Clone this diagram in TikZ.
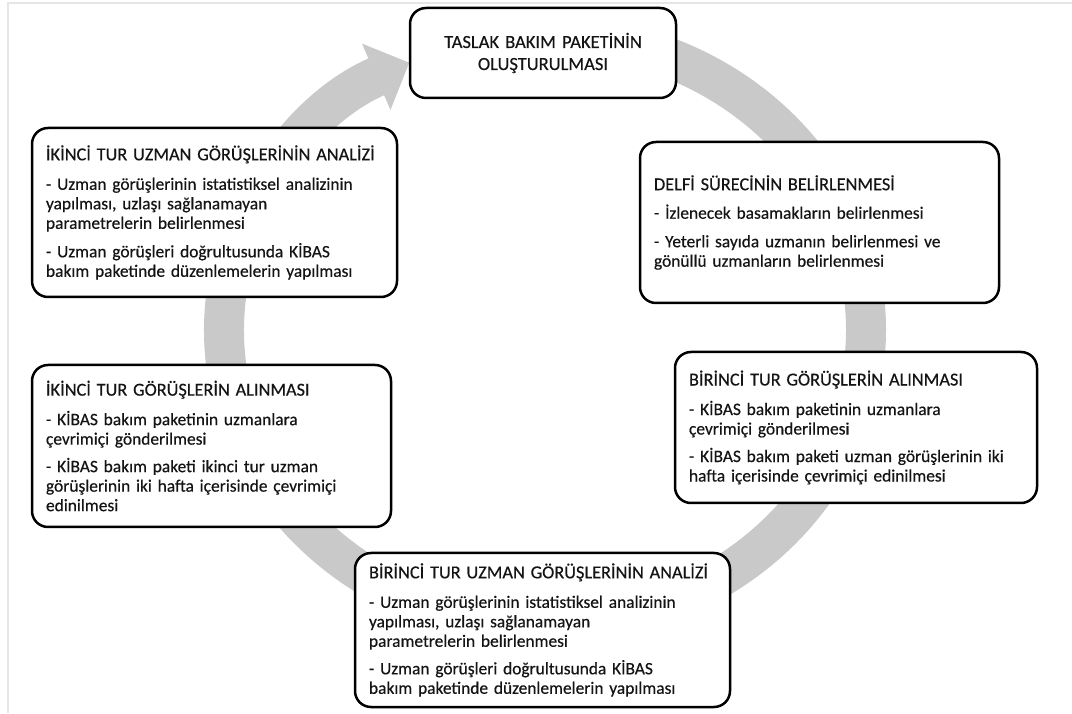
\documentclass[tikz,border=0pt]{standalone}
\usepackage{fontspec}
\setmainfont{Carlito}[FakeBold=0.4]
\usetikzlibrary{arrows.meta}
\definecolor{ringgray}{RGB}{201,201,201}
\definecolor{framegray}{RGB}{230,230,230}
\definecolor{txt}{RGB}{20,20,20}
\newcommand{\hd}[1]{{\fontsize{18.3}{19.5}\selectfont #1}}
\begin{document}
\begin{tikzpicture}[x=1pt,y=1pt,
  box/.style={draw=black, line width=2.5pt, rounded corners=16pt, fill=white,
    inner xsep=14pt, inner ysep=0pt, align=left, text=txt,
    font=\fontsize{17.4}{19.5}\selectfont},
  ring/.style={draw=ringgray, line width=40pt, -{Triangle[length=36pt,width=70pt]}},
  frame/.style={draw=framegray, line width=2pt}
]
\useasboundingbox (0,0) rectangle (1072,713);
\draw[frame] (1072,710) -- (8,710) -- (8,0);
\coordinate (c) at (545,383);
\draw[ring] ([shift={(85:321 and 295)}]c) arc[start angle=85, end angle=-245, x radius=321, y radius=295];

\node[box, align=center, minimum width=266pt, minimum height=90pt, text width=238pt, font=\fontsize{18.5}{22}\selectfont] (top) at (543,660)
  {TASLAK BAKIM PAKETİNİN\\ OLUŞTURULMASI};

\node[box, minimum width=359pt, minimum height=161pt, text width=331pt] (delfi) at (819.5,490.5)
  {\hd{DELFİ SÜRECİNİN BELİRLENMESİ}\\[9pt]
   - İzlenecek basamakların belirlenmesi\\[9pt]
   - Yeterli sayıda uzmanın belirlenmesi ve\\
   gönüllü uzmanların belirlenmesi};

\node[box, minimum width=362pt, minimum height=151pt, text width=334pt] (bal) at (856,285.5)
  {\hd{BİRİNCİ TUR GÖRÜŞLERİN ALINMASI}\\[10pt]
   - KİBAS bakım paketinin uzmanlara\\
   çevrimiçi gönderilmesi\\[8pt]
   - KİBAS bakım paketi uzman görüşlerinin iki\\
   hafta içerisinde çevrimiçi edinilmesi};

\node[box, minimum width=375pt, minimum height=154pt, text width=347pt] (ba) at (542.5,83)
  {\hd{BİRİNCİ TUR UZMAN GÖRÜŞLERİNİN ANALİZİ}\\[10pt]
   - Uzman görüşlerinin istatistiksel analizinin\\
   yapılması, uzlaşı sağlanamayan\\
   parametrelerin belirlenmesi\\[8pt]
   - Uzman görüşleri doğrultusunda KİBAS\\
   bakım paketinde düzenlemelerin yapılması};

\node[box, minimum width=359pt, minimum height=162pt, text width=331pt] (ial) at (211.5,267)
  {\hd{İKİNCİ TUR GÖRÜŞLERİN ALINMASI}\\[10pt]
   - KİBAS bakım paketinin uzmanlara\\
   çevrimiçi gönderilmesi\\[8pt]
   - KİBAS bakım paketi ikinci tur uzman\\
   görüşlerinin iki hafta içerisinde çevrimiçi\\
   edinilmesi};

\node[box, minimum width=365pt, minimum height=169pt, text width=337pt] (ia) at (214.5,500.5)
  {\hd{İKİNCİ TUR UZMAN GÖRÜŞLERİNİN ANALİZİ}\\[10pt]
   - Uzman görüşlerinin istatistiksel analizinin\\
   yapılması, uzlaşı sağlanamayan\\
   parametrelerin belirlenmesi\\[9pt]
   - Uzman görüşleri doğrultusunda KİBAS\\
   bakım paketinde düzenlemelerin yapılması};
\end{tikzpicture}
\end{document}
